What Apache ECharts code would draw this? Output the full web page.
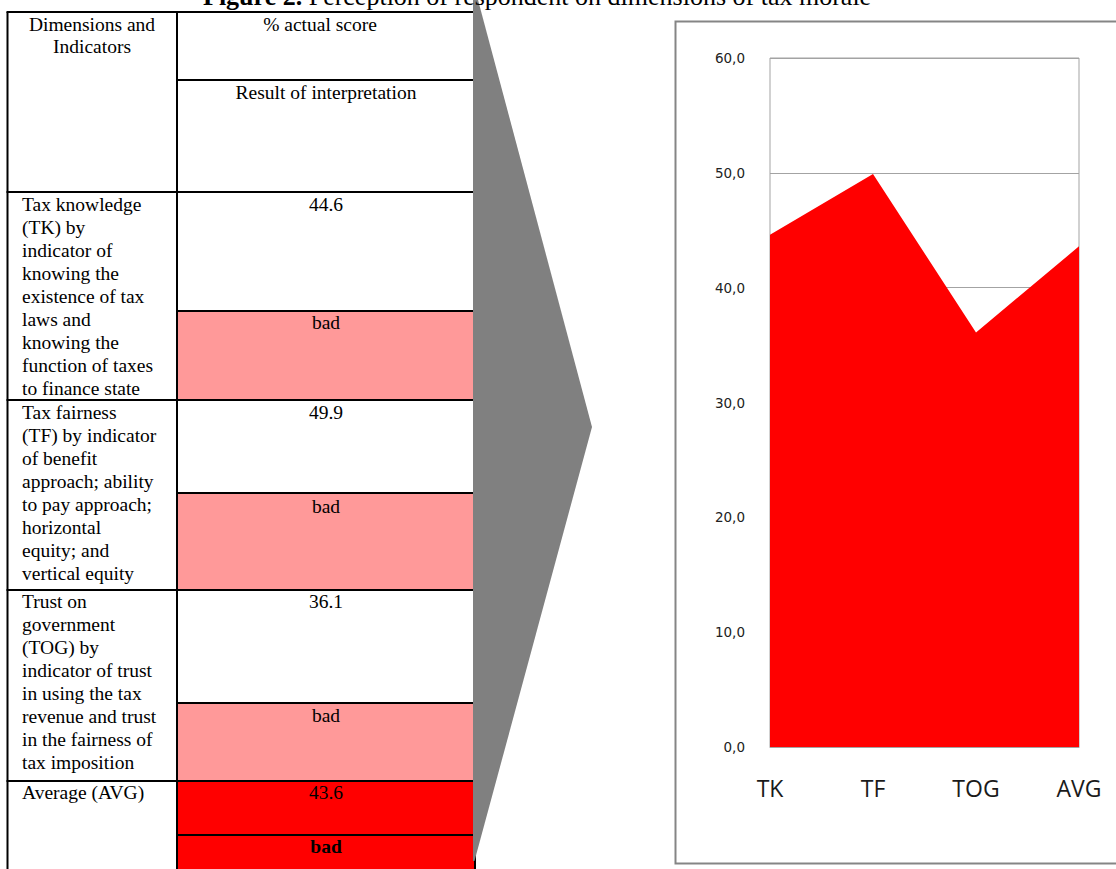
<!DOCTYPE html>
<html>
<head>
<meta charset="utf-8">
<script src="https://cdn.jsdelivr.net/npm/echarts@6/dist/echarts.min.js"></script>
<style>
html,body{margin:0;padding:0;background:#fff;overflow:hidden}
#main{width:1116px;height:869px}
</style>
</head>
<body>
<div id="main"></div>
<script>
// ---------- data ----------
const categories = ['TK', 'TF', 'TOG', 'AVG'];
const scores = [44.6, 49.9, 36.1, 43.6];
const interpretations = ['bad', 'bad', 'bad', 'bad'];
const yTickValues = [0, 10, 20, 30, 40, 50, 60];
const yTickLabels = ['0,0', '10,0', '20,0', '30,0', '40,0', '50,0', '60,0'];
const dimensionLines = [
  ['Tax knowledge', '(TK) by', 'indicator of', 'knowing the', 'existence of tax', 'laws and', 'knowing the', 'function of taxes', 'to finance state'],
  ['Tax fairness', '(TF) by indicator', 'of benefit', 'approach; ability', 'to pay approach;', 'horizontal', 'equity; and', 'vertical equity'],
  ['Trust on', 'government', '(TOG) by', 'indicator of trust', 'in using the tax', 'revenue and trust', 'in the fairness of', 'tax imposition'],
  ['Average (AVG)']
];
const headerDimension = ['Dimensions and', 'Indicators'];
const headerScore = '% actual score';
const headerResult = 'Result of interpretation';
const titleBold = 'Figure 2.';
const titleRest = ' Perception of respondent on dimensions of tax morale';

// ---------- layout (styling only) ----------
const SERIF = '"Liberation Serif", "Times New Roman", serif';
const FS = 19.5;
const LH = 23;
const X0 = 7.5, X1 = 177, X2 = 475;
const COL2C = 326;
const rowsGeom = [
  { top: 192, mid: 311, bottom: 400, base: 211, badBase: 329, fill: '#FF9999', topFill: null, boldBad: false },
  { top: 400, mid: 493, bottom: 590, base: 419, badBase: 513, fill: '#FF9999', topFill: null, boldBad: false },
  { top: 590, mid: 703, bottom: 781, base: 608, badBase: 722, fill: '#FF9999', topFill: null, boldBad: false },
  { top: 781, mid: 835, bottom: 875, base: 799, badBase: 853, fill: '#FF0000', topFill: '#FF0000', boldBad: true }
];

const els = [];
function txt(x, baseline, text, o) {
  o = o || {};
  const fs = o.fontSize || FS;
  els.push({
    type: 'text', x: x, y: baseline - 0.33 * fs, z: 30, silent: true,
    style: {
      text: text, fontFamily: o.fontFamily || SERIF, fontSize: fs,
      fontWeight: o.bold ? 'bold' : 'normal', fill: o.fill || '#000',
      align: o.align || 'left', verticalAlign: 'middle'
    }
  });
}
function line(x1, y1, x2, y2) {
  els.push({ type: 'line', z: 20, silent: true, shape: { x1, y1, x2, y2 }, style: { stroke: '#000', lineWidth: 2 } });
}
function rect(x, y, w, h, fill) {
  els.push({ type: 'rect', z: 10, silent: true, shape: { x, y, width: w, height: h }, style: { fill: fill } });
}

// fills
rowsGeom.forEach(r => {
  if (r.topFill) rect(X1, r.top, X2 - X1, r.mid - r.top, r.topFill);
  rect(X1, r.mid, X2 - X1, r.bottom - r.mid, r.fill);
});
// borders
line(X0, 12, X0, 875);
line(X1, 12, X1, 875);
line(X2, 12, X2, 875);
line(X0 - 1, 12, X2, 12);
line(X1, 80, X2, 80);
line(X0 - 1, 192, X2, 192);
rowsGeom.forEach((r, i) => {
  line(X1, r.mid, X2, r.mid);
  if (i < rowsGeom.length - 1) line(X0 - 1, r.bottom, X2, r.bottom);
});
// header text
txt(92, 30.5, headerDimension[0], { align: 'center' });
txt(92, 52.5, headerDimension[1], { align: 'center' });
txt(320, 30.5, headerScore, { align: 'center' });
txt(COL2C, 99, headerResult, { align: 'center' });
// body text
rowsGeom.forEach((r, i) => {
  dimensionLines[i].forEach((t, k) => txt(22, r.base + k * LH, t));
  txt(COL2C, r.base, scores[i].toFixed(1), { align: 'center' });
  txt(COL2C, r.badBase, interpretations[i], { align: 'center', bold: r.boldBad });
});
// arrow
els.push({
  type: 'polygon', z: 40, silent: true,
  shape: { points: [[473, -2], [477.5, -2], [592, 427], [474.5, 861], [473, 861]] },
  style: { fill: '#808080' }
});
// chart frame
els.push({
  type: 'rect', z: 5, silent: true,
  shape: { x: 675.5, y: 21.5, width: 470, height: 842 },
  style: { fill: 'none', stroke: '#858585', lineWidth: 2 }
});
// title
els.push({
  type: 'text', x: 203, y: 5 - 0.33 * 26, z: 60, silent: true,
  style: {
    text: '{b|' + titleBold + '}{n|' + titleRest + '}',
    verticalAlign: 'middle', align: 'left',
    rich: {
      b: { fontFamily: SERIF, fontSize: 26, fontWeight: 'bold', fill: '#000' },
      n: { fontFamily: SERIF, fontSize: 26, fill: '#000' }
    }
  }
});

const chart = echarts.init(document.getElementById('main'), null, { renderer: 'svg' });
chart.setOption({
  animation: false,
  backgroundColor: '#fff',
  grid: {
    left: 770, right: 1116 - 1079, top: 58, bottom: 869 - 747,
    show: true, borderColor: '#a3a3a3', borderWidth: 1, backgroundColor: 'transparent',
    containLabel: false
  },
  xAxis: {
    type: 'category', data: categories, boundaryGap: false,
    axisLine: { show: true, lineStyle: { color: '#a3a3a3', width: 1 } },
    axisTick: { show: false },
    splitLine: { show: false },
    axisLabel: { fontFamily: '"Open Sans", sans-serif', fontSize: 23, color: '#1a1a1a', margin: 29 }
  },
  yAxis: {
    type: 'value', min: 0, max: 60, interval: 10,
    axisLine: { show: false }, axisTick: { show: false },
    splitLine: { show: true, lineStyle: { color: '#a3a3a3', width: 1 } },
    axisLabel: {
      fontFamily: '"DejaVu Sans", sans-serif', fontSize: 13.5, color: '#222', margin: 25,
      formatter: v => yTickLabels[yTickValues.indexOf(v)]
    }
  },
  series: [{
    type: 'line', data: scores, symbol: 'none', showSymbol: false,
    lineStyle: { width: 0, color: '#FF0000' },
    itemStyle: { color: '#FF0000' },
    areaStyle: { color: '#FF0000', opacity: 1 },
    silent: true
  }],
  graphic: { elements: els }
});
</script>
</body>
</html>
